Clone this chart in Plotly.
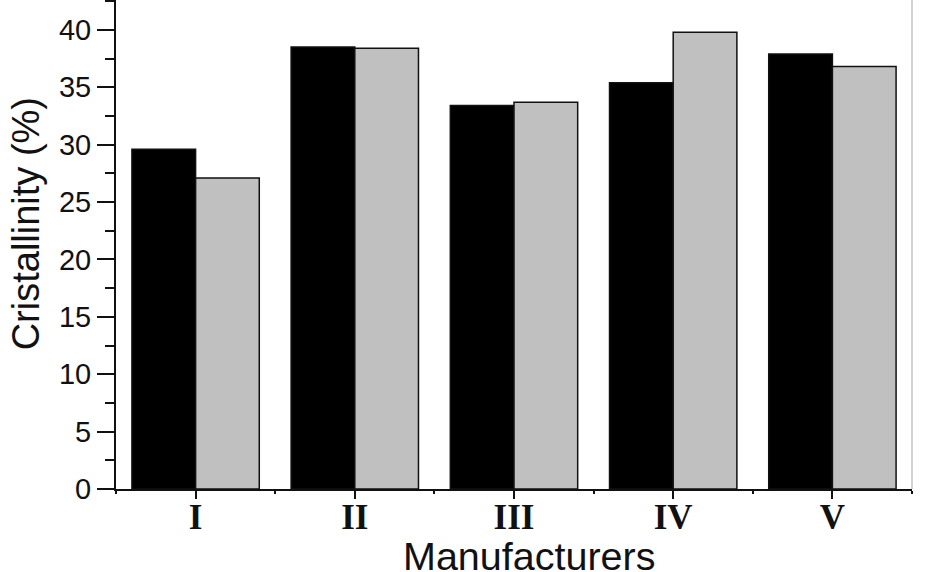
import plotly.graph_objects as go

# crystallinity per manufacturer, two samples each
manufacturers = ["I", "II", "III", "IV", "V"]
positions = [0, 1, 2, 3, 4]
sample_a = [29.6, 38.5, 33.4, 35.4, 37.9]
sample_b = [27.1, 38.4, 33.7, 39.8, 36.8]

fig = go.Figure()
fig.add_bar(x=positions, y=sample_a, name="a",
            marker=dict(color="#000000", line=dict(color="#111111", width=1.5)))
fig.add_bar(x=positions, y=sample_b, name="b",
            marker=dict(color="#C0C0C0", line=dict(color="#111111", width=1.5)))

fig.update_layout(
    width=925, height=572,
    margin=dict(l=116, r=13, t=0, b=83),
    paper_bgcolor="white", plot_bgcolor="white",
    barmode="group", bargap=0.2, bargroupgap=0,
    showlegend=False,
    font=dict(family="Liberation Sans, Arial", color="#111111"),
)

fig.update_xaxes(
    range=[-0.5, 4.5],
    tickvals=positions, ticktext=manufacturers,
    tickfont=dict(family="Liberation Serif, Times New Roman", size=35, weight="bold", color="#111111"),
    ticks="outside", ticklen=8, tickwidth=2, tickcolor="#111111",
    ticklabelstandoff=-12,
    minor=dict(tick0=0.5, dtick=1, ticks="outside", ticklen=3, tickwidth=2, tickcolor="#111111"),
    showline=True, linecolor="#111111", linewidth=2,
    showgrid=False, zeroline=False,
)
fig.update_yaxes(
    range=[0, 42.6],
    tick0=0, dtick=5,
    tickfont=dict(size=29, color="#111111"),
    ticks="outside", ticklen=17, tickwidth=2, tickcolor="#111111",
    minor=dict(dtick=2.5, ticks="outside", ticklen=9, tickwidth=2, tickcolor="#111111"),
    showline=True, linecolor="#111111", linewidth=2,
    showgrid=False, zeroline=False,
)

# faint frame line on the right
fig.add_shape(type="line", xref="paper", yref="paper", x0=1, x1=1, y0=0, y1=1,
              line=dict(color="#D4D4D4", width=2))

fig.add_annotation(text="Cristallinity (%)", xref="paper", yref="paper",
                   x=-0.112, y=0.543, xanchor="center", yanchor="middle",
                   textangle=-90, showarrow=False,
                   font=dict(size=38, color="#111111"))
fig.add_annotation(text="Manufacturers", xref="paper", yref="paper",
                   x=0.519, y=-0.137, xanchor="center", yanchor="middle", showarrow=False,
                   font=dict(size=39.5, color="#111111"))

# page body has a default 8px margin; drop it so the chart sits at the corner
fig.write_html("out.html", config={"displayModeBar": False},
               post_script="document.body.style.margin='0';")
